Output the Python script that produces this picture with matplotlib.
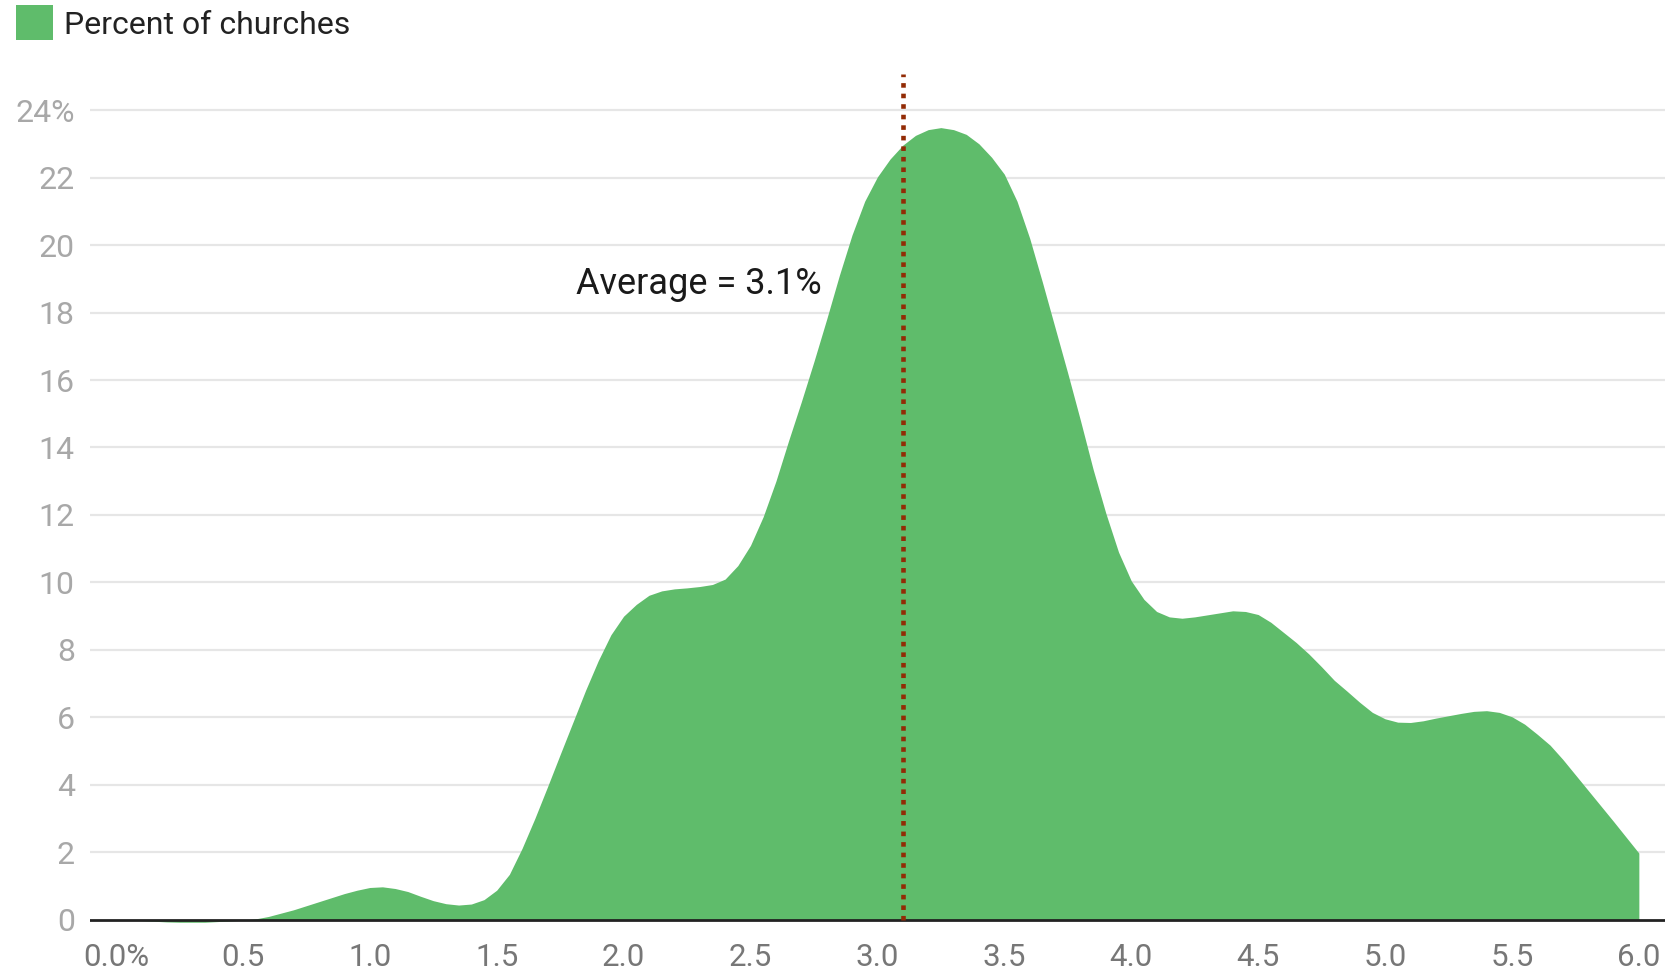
import matplotlib
matplotlib.use("Agg")
import matplotlib.pyplot as plt
from matplotlib.patches import Rectangle

plt.rcParams['font.family'] = ['Roboto', 'DejaVu Sans']

rate = [round(0.05 * i, 2) for i in range(121)]
churches = [0.0, 0.0, -0.02, -0.04, -0.06, -0.07, -0.07, -0.07, -0.05, -0.03,
            -0.01, 0.03, 0.10, 0.20, 0.30, 0.42, 0.54, 0.66, 0.78, 0.88,
            0.96, 0.98, 0.93, 0.84, 0.70, 0.57, 0.48, 0.44, 0.47, 0.60,
            0.88, 1.35, 2.12, 3.0, 3.94, 4.9, 5.85, 6.8, 7.68, 8.45,
            9.0, 9.35, 9.62, 9.75, 9.81, 9.84, 9.88, 9.94, 10.1, 10.5,
            11.1, 11.95, 13.0, 14.2, 15.35, 16.55, 17.8, 19.1, 20.3, 21.3,
            22.02, 22.55, 22.96, 23.25, 23.42, 23.48, 23.42, 23.28, 23.0, 22.6,
            22.1, 21.3, 20.2, 18.9, 17.55, 16.2, 14.8, 13.35, 12.05, 10.9,
            10.05, 9.5, 9.14, 8.98, 8.94, 8.98, 9.04, 9.1, 9.16, 9.14,
            9.05, 8.82, 8.52, 8.22, 7.88, 7.5, 7.1, 6.78, 6.45, 6.15,
            5.96, 5.86, 5.85, 5.9, 5.98, 6.05, 6.12, 6.18, 6.2, 6.15,
            6.02, 5.8, 5.5, 5.18, 4.76, 4.3, 3.84, 3.38, 2.92, 2.45,
            1.98]

average = 3.1
x_ticks = [0.0, 0.5, 1.0, 1.5, 2.0, 2.5, 3.0, 3.5, 4.0, 4.5, 5.0, 5.5, 6.0]
x_labels = ["0.0%", "0.5", "1.0", "1.5", "2.0", "2.5", "3.0", "3.5", "4.0", "4.5", "5.0", "5.5", "6.0"]
y_ticks = [0, 2, 4, 6, 8, 10, 12, 14, 16, 18, 20, 22, 24]
y_labels = ["0", "2", "4", "6", "8", "10", "12", "14", "16", "18", "20", "22", "24%"]

green = "#5fbc6b"

fig = plt.figure(figsize=(16.68, 9.72), dpi=100)
ax = fig.add_axes([0.0540, 0.0484, 0.9442, 0.8755])

for y in y_ticks[1:]:
    ax.axhline(y, color="#e6e6e6", lw=1.6, zorder=0)

ax.fill_between(rate, churches, 0, color=green, lw=0, zorder=1)
ax.axhline(0, color="#222222", lw=2.0, zorder=3)
ax.plot([average, average], [0, 25.07], color="#922b05", lw=3.3,
        dashes=(1, 1.3), solid_capstyle="butt", dash_capstyle="butt", zorder=4)
ax.text(2.78, 18.85, "Average = %.1f%%" % average, ha="right", va="center",
        fontsize=26, color="#1a1a1a", zorder=5)

ax.set_xlim(-0.102, 6.103)
ax.set_ylim(-0.15, 25.07)
ax.set_xticks(x_ticks)
ax.set_xticklabels(x_labels)
ax.set_yticks(y_ticks)
ax.set_yticklabels(y_labels)
ax.tick_params(axis="x", length=0, pad=13, labelsize=22.5, colors="#777777")
ax.tick_params(axis="y", length=0, pad=11, labelsize=23, colors="#a8a8a8")
for s in ax.spines.values():
    s.set_visible(False)

# legend
fig.patches.append(Rectangle((16 / 1668, 1 - 40 / 972), 37 / 1668, 35 / 972,
                             transform=fig.transFigure, color=green, lw=0))
fig.text(64 / 1668, 1 - 25 / 972, "Percent of churches", ha="left", va="center",
         fontsize=23, color="#222222")

fig.savefig("out.png", dpi=100)
